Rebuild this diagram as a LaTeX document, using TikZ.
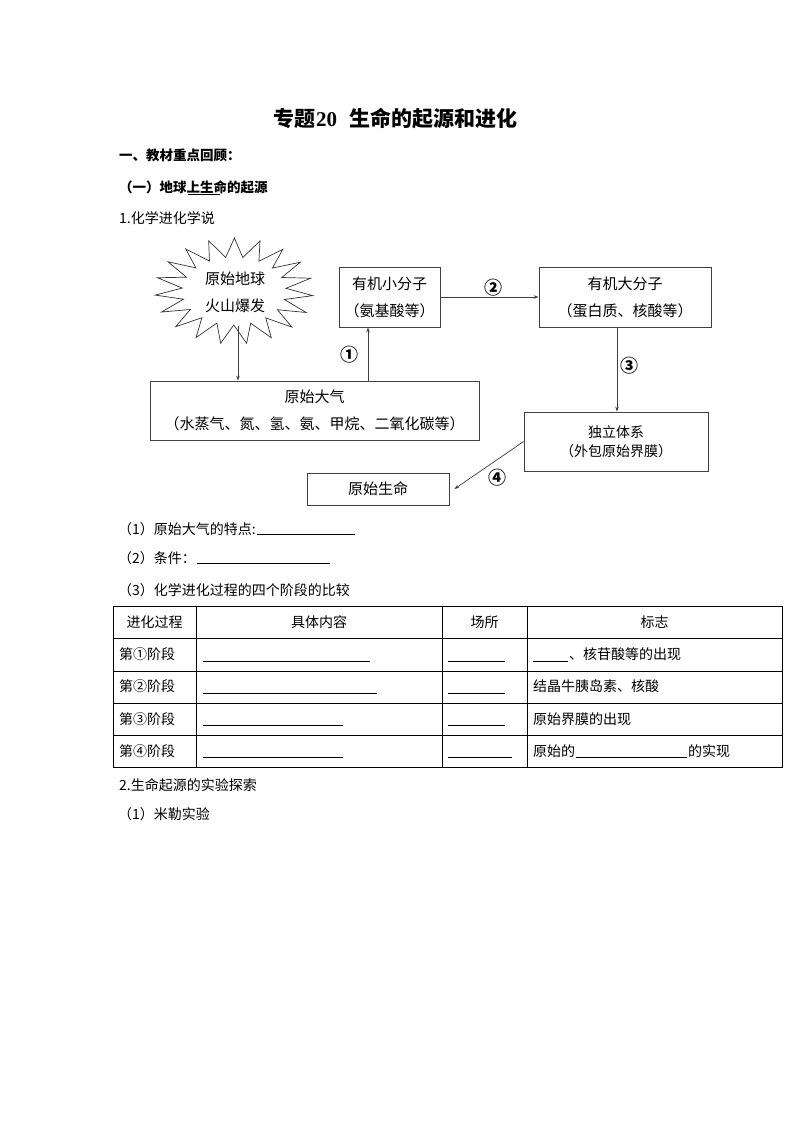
\documentclass[tikz,border=0pt]{standalone}
\usepackage{fontspec}
\setmainfont{Liberation Serif}
\newfontfamily\cjk{Noto Sans CJK SC}
\usetikzlibrary{arrows.meta}
\begin{document}
\begin{tikzpicture}[x=1pt,y=-1pt,
  box/.style={draw=black!75, line width=0.8pt, align=center, inner sep=0pt, font=\cjk\fontsize{15}{27}\selectfont},
  arr/.style={draw=black!75, line width=0.7pt, -{Stealth[length=5pt,width=3.5pt]}},
  lbl/.style={inner sep=0pt, font=\cjk\bfseries\fontsize{18}{18}\selectfont},
  txt/.style={anchor=west, inner sep=0pt, font=\cjk\fontsize{14}{16}\selectfont},
  ctxt/.style={inner sep=0pt, font=\cjk\fontsize{14}{16}\selectfont},
  blank/.style={line width=0.7pt},
  tbl/.style={line width=0.8pt}
]
\useasboundingbox[fill=white] (0,0) rectangle (794,1123);

% headings
\node[anchor=west, inner sep=0pt, font=\cjk\bfseries\fontsize{21}{21}\selectfont] (title) at (273,118) {专题\hspace{1pt}{\rmfamily 20}\hspace{12pt}生命的起源和进化};
\node[txt, font=\cjk\bfseries\fontsize{13.5}{16}\selectfont] (h1) at (119,155) {一、教材重点回顾：};
\node[txt, font=\cjk\bfseries\fontsize{13.5}{16}\selectfont] (h2) at (119,187) {（一）地球上生命的起源};
\draw[blank] (188,194) -- (220,194);
\node[txt] (h3) at (119,218) {1.化学进化学说};

% starburst
\draw[line width=0.7pt, draw=black!80] plot[samples=39, domain=0:38, variable=\t]
  ({234+(mod(round(\t),2)==0 ? 79 : 52)*cos(\t*360/38+5)}, {291+(mod(round(\t),2)==0 ? 53 : 34)*sin(\t*360/38+5)}) -- cycle;
\node[inner sep=0pt, align=center, font=\cjk\fontsize{15}{27}\selectfont] (earth) at (235,292) {原始地球\\火山爆发};

% boxes
\node[box, minimum width=329pt, minimum height=59pt] (atm) at (314.5,410.5) {原始大气\\（水蒸气、氮、氢、氨、甲烷、二氧化碳等）};
\node[box, minimum width=101pt, minimum height=60pt] (small) at (389.5,297) {有机小分子\\（氨基酸等）};
\node[box, minimum width=172pt, minimum height=60pt] (big) at (625,297) {有机大分子\\（蛋白质、核酸等）};
\node[box, minimum width=184pt, minimum height=59pt, font=\cjk\fontsize{14}{19}\selectfont] (indep) at (616,441.5) {独立体系\\（外包原始界膜）};
\node[box, minimum width=142pt, minimum height=32pt] (life) at (378,489) {原始生命};

% connectors
\coordinate (eb) at (238,326);
\draw[arr] (eb) -- (eb |- atm.north);
\coordinate (a1) at (368,0);
\draw[arr] (atm.north -| a1) -- (small.south -| a1);
\draw[arr] (small.east) -- (big.west);
\coordinate (a3) at (617,0);
\draw[arr] (big.south -| a3) -- (indep.north -| a3);
\draw[arr] (indep.west) -- ([xshift=5pt]life.east);

\node[lbl] (l1) at (349,355) {①};
\node[lbl] (l2) at (493,288) {②};
\node[lbl] (l3) at (629,366) {③};
\node[lbl] (l4) at (497,478) {④};

% questions
\node[txt] (q1) at (118,529) {（1）原始大气的特点:};
\draw[blank] (257,534) -- (355,534);
\node[txt] (q2) at (118,558) {（2）条件：};
\draw[blank] (197,563) -- (330,563);
\node[txt] (q3) at (118,590) {（3）化学进化过程的四个阶段的比较};

% table
\draw[tbl] (113,606) rectangle (782,767);
\foreach \y in {638,671,703,735} \draw[tbl] (113,\y) -- (782,\y);
\foreach \x in {196,442,527} \draw[tbl] (\x,606) -- (\x,767);

\node[ctxt] (c1) at (154.5,622) {进化过程};
\node[ctxt] (c2) at (319,622) {具体内容};
\node[ctxt] (c3) at (484.5,622) {场所};
\node[ctxt] (c4) at (654.5,622) {标志};

\node[txt] (r1) at (119,654) {第①阶段};
\node[txt] (r2) at (119,686.5) {第②阶段};
\node[txt] (r3) at (119,719) {第③阶段};
\node[txt] (r4) at (119,751) {第④阶段};

\draw[blank] (203,661) -- (370,661);
\draw[blank] (203,693) -- (377,693);
\draw[blank] (203,725) -- (343,725);
\draw[blank] (203,757) -- (343,757);

\draw[blank] (448,661) -- (505,661);
\draw[blank] (448,693) -- (505,693);
\draw[blank] (448,725) -- (505,725);
\draw[blank] (448,757) -- (512,757);

\draw[blank] (533,661) -- (568,661);
\node[txt] (m1) at (569,654) {、核苷酸等的出现};
\node[txt] (m2) at (533,686.5) {结晶牛胰岛素、核酸};
\node[txt] (m3) at (533,719) {原始界膜的出现};
\node[txt] (m4a) at (533,751) {原始的};
\draw[blank] (576,757) -- (687,757);
\node[txt] (m4b) at (688,751) {的实现};

% section 2
\node[txt] (s2) at (119,785) {2.生命起源的实验探索};
\node[txt] (s21) at (118,814) {（1）米勒实验};
\end{tikzpicture}
\end{document}
